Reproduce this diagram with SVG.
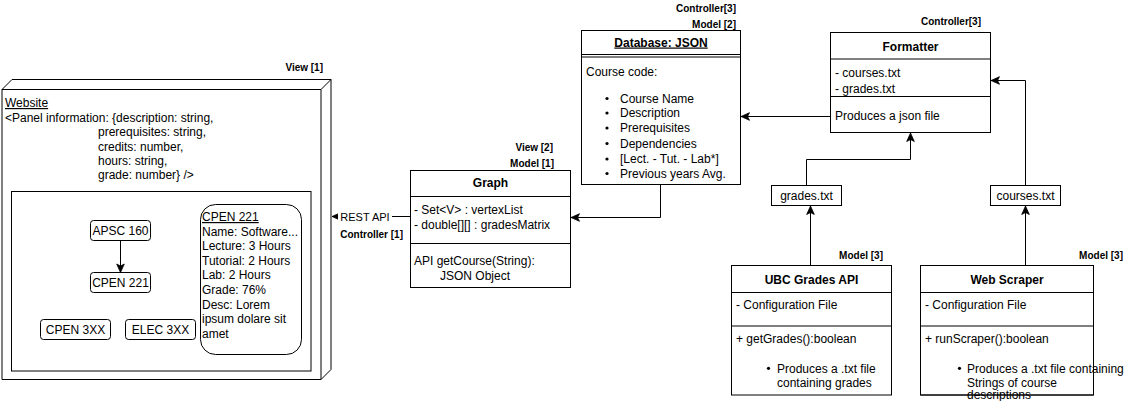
<svg xmlns="http://www.w3.org/2000/svg" width="1141" height="401" viewBox="0 0 1141 401">
<style>
text{font-family:"Liberation Sans",Arial,sans-serif;font-size:12px;fill:#000}
.b{font-weight:bold}
.c{text-anchor:middle}
.lab{font-size:10px;font-weight:bold;text-anchor:end}
.u{text-decoration:underline}
.box{fill:#fff;stroke:#000;stroke-width:1}
.ln{fill:none;stroke:#000;stroke-width:1}
.edge{fill:none;stroke:#000;stroke-width:1}
</style>
<defs>
<marker id="arr" markerUnits="userSpaceOnUse" markerWidth="10" markerHeight="10" viewBox="0 0 10 10" refX="9.5" refY="5" orient="auto">
<path d="M1,1.2 L9.5,5 L1,8.8 L3,5 Z" fill="#000" stroke="#000" stroke-width="0.8" stroke-linejoin="miter"/>
</marker>
</defs>
<rect width="1141" height="401" fill="#fff"/>

<g id="website">
<path class="box" d="M2,89.5 L12,79.5 L331,79.5 L331,369.5 L321,379.5 L2,379.5 Z"/>
<path class="ln" d="M2,89.5 L321,89.5 L331,79.5 M321,89.5 L321,379.5"/>
<text class="lab" x="323" y="71">View [1]</text>
<text x="5" y="107" class="u">Website</text>
<text x="5" y="121.5">&lt;Panel information: {description: string,</text>
<text x="98" y="136">prerequisites: string,</text>
<text x="98" y="150.5">credits: number,</text>
<text x="98" y="165">hours: string,</text>
<text x="98" y="179">grade: number} /&gt;</text>
<rect class="box" x="11.5" y="191.5" width="299.5" height="179.5"/>
</g>

<g id="apsc160">
<rect class="box" x="90.5" y="220.5" width="60" height="20" rx="3"/>
<text class="c" x="120.5" y="234.5">APSC 160</text>
</g>
<g id="cpen221">
<rect class="box" x="90.5" y="272.5" width="60" height="20" rx="3"/>
<text class="c" x="120.5" y="286.5">CPEN 221</text>
</g>
<g id="cpen3xx">
<rect class="box" x="40.5" y="319.5" width="70" height="20" rx="3"/>
<text class="c" x="75.5" y="333.5">CPEN 3XX</text>
</g>
<g id="elec3xx">
<rect class="box" x="125.5" y="319.5" width="70" height="20" rx="3"/>
<text class="c" x="160.5" y="333.5">ELEC 3XX</text>
</g>
<g id="cpen221-info">
<rect class="box" x="200.5" y="204.5" width="101" height="150" rx="15"/>
<text x="202" y="221" class="u">CPEN 221</text>
<text x="202" y="235.6">Name: Software...</text>
<text x="202" y="250.2">Lecture: 3 Hours</text>
<text x="202" y="264.8">Tutorial: 2 Hours</text>
<text x="202" y="279.4">Lab: 2 Hours</text>
<text x="202" y="294">Grade: 76%</text>
<text x="202" y="308.6">Desc: Lorem</text>
<text x="202" y="323.2">ipsum dolare sit</text>
<text x="202" y="337.8">amet</text>
</g>

<g id="graph">
<text class="lab" x="553" y="150.5">View [2]</text>
<text class="lab" x="554" y="166.5">Model [1]</text>
<rect class="box" x="410.5" y="170.5" width="160" height="117"/>
<path class="ln" d="M410.5,196.5 H570.5 M410.5,243.5 H570.5"/>
<text class="b c" x="490.5" y="187">Graph</text>
<text x="414" y="214.3">- Set&lt;V&gt; : vertexList</text>
<text x="414" y="228.6">- double[][] : gradesMatrix</text>
<text x="414" y="265.3">API getCourse(String):</text>
<text x="440" y="280">JSON Object</text>
</g>

<g id="database">
<text class="lab" x="736" y="11.5">Controller[3]</text>
<text class="lab" x="736" y="27.5">Model [2]</text>
<rect class="box" x="581.5" y="30.5" width="159" height="154"/>
<path class="ln" d="M581.5,54.5 H740.5 M581.5,57 H740.5"/>
<text class="b c u" x="661" y="46.5">Database: JSON</text>
<text x="586" y="76">Course code:</text>
<g fill="#000">
<circle cx="607" cy="98.5" r="1.6"/><circle cx="607" cy="113" r="1.6"/><circle cx="607" cy="128" r="1.6"/>
<circle cx="607" cy="143.5" r="1.6"/><circle cx="607" cy="159" r="1.6"/><circle cx="607" cy="173.5" r="1.6"/>
</g>
<text x="620" y="102.6">Course Name</text>
<text x="620" y="117.2">Description</text>
<text x="620" y="132.2">Prerequisites</text>
<text x="620" y="147.7">Dependencies</text>
<text x="620" y="163.2">[Lect. - Tut. - Lab*]</text>
<text x="620" y="177.7">Previous years Avg.</text>
</g>

<g id="formatter">
<text class="lab" x="981" y="25">Controller[3]</text>
<rect class="box" x="830.5" y="32.5" width="160" height="100"/>
<path class="ln" d="M830.5,59 H990.5 M830.5,96.5 H990.5"/>
<text class="b c" x="910.5" y="51">Formatter</text>
<text x="835" y="76.5">- courses.txt</text>
<text x="835" y="93">- grades.txt</text>
<text x="835" y="120">Produces a json file</text>
</g>

<g id="grades-txt">
<rect class="box" x="771.5" y="185.5" width="70" height="20"/>
<text class="c" x="806.5" y="199.5">grades.txt</text>
</g>
<g id="courses-txt">
<rect class="box" x="990.5" y="185.5" width="70" height="20"/>
<text class="c" x="1025.5" y="199.5">courses.txt</text>
</g>

<g id="ubc-grades-api">
<text class="lab" x="883" y="259">Model [3]</text>
<rect class="box" x="731.5" y="265.5" width="160" height="129.5"/>
<path class="ln" d="M731.5,292.5 H891.5 M731.5,326 H891.5"/>
<text class="b c" x="811.5" y="283.5">UBC Grades API</text>
<text x="736" y="309.3">- Configuration File</text>
<text x="736" y="343.3">+ getGrades():boolean</text>
<circle cx="768.5" cy="368.3" r="1.6" fill="#000"/>
<text x="777" y="372.6">Produces a .txt file</text>
<text x="777" y="386.6">containing grades</text>
</g>

<g id="web-scraper">
<text class="lab" x="1123" y="259">Model [3]</text>
<rect class="box" x="920.5" y="265.5" width="173" height="129.5"/>
<path class="ln" d="M920.5,292.5 H1093.5 M920.5,326 H1093.5"/>
<text class="b c" x="1007" y="283.5">Web Scraper</text>
<text x="925" y="309.3">- Configuration File</text>
<text x="925" y="343.3">+ runScraper():boolean</text>
<circle cx="959.5" cy="368.3" r="1.6" fill="#000"/>
<text x="967" y="372.6">Produces a .txt file containing</text>
<text x="967" y="386.6">Strings of course</text>
<text x="967" y="399">descriptions</text>
<path class="ln" d="M920.5,395 H1093.5"/>
</g>

<g id="connectors">
<path class="edge" d="M120.5,240.5 V272.5" marker-end="url(#arr)"/>
<path class="edge" d="M410.5,216.5 H332" marker-end="url(#arr)"/>
<rect x="338" y="209" width="54" height="14" fill="#fff"/>
<text x="365" y="220.5" class="c" style="font-size:11px">REST API</text>
<text class="lab" x="403" y="238">Controller [1]</text>
<path class="edge" d="M660.5,184.5 V217.5 H571" marker-end="url(#arr)"/>
<path class="edge" d="M830.5,116.5 H741" marker-end="url(#arr)"/>
<path class="edge" d="M806.5,185.5 V159.5 H910.5 V133" marker-end="url(#arr)"/>
<path class="edge" d="M1025.5,185.5 V80.5 H991" marker-end="url(#arr)"/>
<path class="edge" d="M810.5,265.5 V206" marker-end="url(#arr)"/>
<path class="edge" d="M1025.5,265.5 V206" marker-end="url(#arr)"/>
</g>
</svg>
